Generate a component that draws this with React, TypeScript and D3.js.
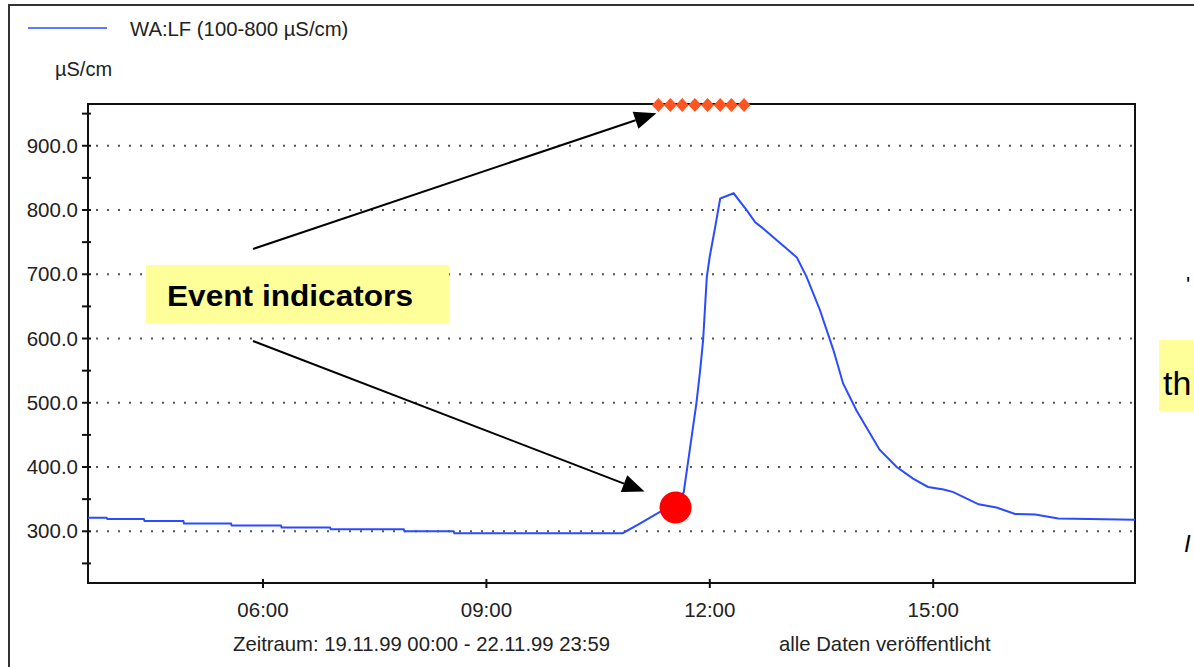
import React from 'react';
import * as d3 from 'd3';

// Time of day in hours, and conductivity values (µS/cm)
const times = [3.65, 3.90, 3.91, 4.40, 4.41, 4.93, 4.94, 5.57, 5.58, 6.24, 6.25, 6.90, 6.91, 7.89, 7.90, 8.56, 8.57, 10.83, 11.06, 11.33, 11.54, 11.65, 11.82, 11.87, 11.91, 11.96, 12.00, 12.07, 12.14, 12.32, 12.50, 12.61, 12.72, 12.90, 13.03, 13.17, 13.30, 13.48, 13.66, 13.79, 13.97, 14.28, 14.51, 14.73, 14.93, 15.14, 15.27, 15.43, 15.61, 15.85, 16.10, 16.37, 16.68, 17.71];
const values = [321, 321, 319, 319, 316, 316, 312, 312, 309, 309, 306, 306, 303, 303, 300, 300, 297, 297, 312, 330, 337, 361, 499, 550, 597, 696, 728, 772, 818, 826, 799, 781, 771, 753, 740, 726, 696, 644, 582, 530, 488, 427, 400, 382, 369, 365, 361, 352, 342, 337, 327, 326, 320, 318];

const eventTimes = [11.31, 11.47, 11.63, 11.80, 11.97, 12.14, 12.29, 12.46];
const eventDotTime = 11.54;
const eventDotValue = 337;

const xTicks = [6, 9, 12, 15];
const yTicks = [300, 400, 500, 600, 700, 800, 900];
const yMinorTicks = [250, 300, 350, 400, 450, 500, 550, 600, 650, 700, 750, 800, 850, 900, 950];

const legendLabel = 'WA:LF (100-800 µS/cm)';
const unitLabel = 'µS/cm';
const footerLeft = 'Zeitraum: 19.11.99 00:00 - 22.11.99 23:59';
const footerRight = 'alle Daten veröffentlicht';
const annotationLabel = 'Event indicators';

const W = 1194;
const H = 667;
const plot = { left: 88, right: 1135, top: 104, bottom: 583 };
const FONT = '"Liberation Sans", Arial, sans-serif';
const BLUE = '#2a4bff';
const TEXT = '#222';

function arrow(x1: number, y1: number, x2: number, y2: number, len = 22, half = 9) {
  const ang = Math.atan2(y2 - y1, x2 - x1);
  const bx = x2 - len * Math.cos(ang);
  const by = y2 - len * Math.sin(ang);
  const px = -Math.sin(ang) * half;
  const py = Math.cos(ang) * half;
  return {
    line: { x1, y1, x2: bx, y2: by },
    head: `M${x2},${y2}L${bx + px},${by + py}L${bx - px},${by - py}Z`,
  };
}

export default function App() {
  const x = d3.scaleLinear().domain([3.65, 17.71]).range([plot.left, plot.right]);
  const y = d3.scaleLinear().domain([219.5, 965]).range([plot.bottom, plot.top]);

  const data = times.map((t, i) => [t, values[i]] as [number, number]);
  const line = d3.line<[number, number]>().x(d => x(d[0])).y(d => y(d[1]))(data) || '';

  const fmt = (h: number) => `${String(h).padStart(2, '0')}:00`;

  const boxX = 146, boxY = 265, boxW = 303, boxH = 58;
  const a1 = arrow(253, 249, x(eventTimes[0]) - 2, y(960) + 6);
  const a2 = arrow(253, 341, x(eventDotTime) - 31, y(eventDotValue) - 16);

  const diamond = (cx: number, cy: number) =>
    `M${cx},${cy - 7}L${cx + 6.5},${cy}L${cx},${cy + 7}L${cx - 6.5},${cy}Z`;

  return (
    <svg width={W} height={H} style={{ position: 'absolute', left: 0, top: 0, display: 'block' }}
      fontFamily={FONT}>
      <rect x={0} y={0} width={W} height={H} fill="#fff" />
      {/* outer frame */}
      <rect x={9} y={5} width={1300} height={800} fill="none" stroke="#333" strokeWidth={2} />

      {/* legend */}
      <line x1={28} x2={107} y1={28} y2={28} stroke={BLUE} strokeWidth={1.5} />
      <text x={130} y={36} fontSize={20.3} fill={TEXT}>{legendLabel}</text>
      <text x={55} y={76} fontSize={20} fill={TEXT}>{unitLabel}</text>

      {/* gridlines */}
      {yTicks.map(v => (
        <line key={'g' + v} x1={plot.left + 8} x2={plot.right} y1={y(v)} y2={y(v)}
          stroke="#555" strokeWidth={2} strokeDasharray="2 9" />
      ))}

      {/* plot box */}
      <rect x={plot.left} y={plot.top} width={plot.right - plot.left} height={plot.bottom - plot.top}
        fill="none" stroke="#111" strokeWidth={2} />

      {/* y ticks */}
      {yMinorTicks.map(v => (
        <line key={'yt' + v} x1={plot.left - 6} x2={plot.left + 3} y1={y(v)} y2={y(v)} stroke="#111" strokeWidth={2} />
      ))}
      {yTicks.map(v => (
        <text key={'yl' + v} x={plot.left - 10} y={y(v) + 7} fontSize={20.5} textAnchor="end" fill={TEXT}>
          {v.toFixed(1)}
        </text>
      ))}

      {/* x ticks */}
      {xTicks.map(h => (
        <g key={'xt' + h}>
          <line x1={x(h)} x2={x(h)} y1={plot.bottom - 4} y2={plot.bottom + 5} stroke="#111" strokeWidth={2} />
          <text x={x(h)} y={617} fontSize={20.5} textAnchor="middle" fill={TEXT}>{fmt(h)}</text>
        </g>
      ))}

      <text x={233} y={651} fontSize={20.3} fill={TEXT}>{footerLeft}</text>
      <text x={779} y={651} fontSize={20.3} fill={TEXT}>{footerRight}</text>

      {/* data line */}
      <path d={line} fill="none" stroke={BLUE} strokeWidth={2} />

      {/* event indicator diamonds */}
      {eventTimes.map((t, i) => (
        <path key={'d' + i} d={diamond(x(t), plot.top + 1)} fill="#ff5520" />
      ))}

      {/* red event dot */}
      <circle cx={x(eventDotTime)} cy={y(eventDotValue)} r={16} fill="#ff0000" />

      {/* annotation */}
      <rect x={boxX} y={boxY} width={boxW} height={boxH} fill="#ffff99" />
      <text x={167} y={306} fontSize={30} fontWeight="bold" fill="#000" textLength={246} lengthAdjust="spacingAndGlyphs">{annotationLabel}</text>
      <line {...a1.line} stroke="#000" strokeWidth={2} />
      <path d={a1.head} fill="#000" />
      <line {...a2.line} stroke="#000" strokeWidth={2} />
      <path d={a2.head} fill="#000" />

      {/* partially visible content at right edge */}
      <rect x={1159} y={340} width={40} height={71} fill="#ffff99" />
      <text x={1163} y={395} fontSize={34} fill="#000">th</text>
      <text x={1186} y={292} fontSize={22} fill="#000">'</text>
      <text x={1184} y={552} fontSize={24} fontStyle="italic" fill="#000">I</text>
    </svg>
  );
}
